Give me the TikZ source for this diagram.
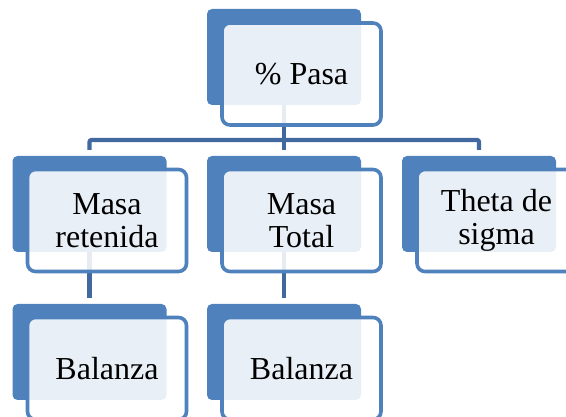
\documentclass[tikz,border=0pt]{standalone}
\usepackage{fontspec}
\setmainfont{Liberation Serif}
\usepackage{tikz}
\usetikzlibrary{positioning}

\definecolor{accentblue}{HTML}{4F81BD}
\definecolor{linkblue}{HTML}{41699F}

\tikzset{
    backbox/.style={rectangle, rounded corners=5pt, fill=accentblue,
        minimum width=154pt, minimum height=96pt, inner sep=0pt},
    frontbox/.style={rectangle, rounded corners=8pt, draw=accentblue,
        line width=3.6pt, fill=white, fill opacity=0.88, text opacity=1,
        minimum width=159pt, minimum height=102pt, inner sep=0pt,
        align=center, font=\fontsize{32}{33}\selectfont},
    conn/.style={draw=linkblue, line width=4.2pt, rounded corners=2pt}
}

\begin{document}
\begin{tikzpicture}[x=1pt,y=-1pt]
    \useasboundingbox (0,0) rectangle (566,417);

    % back panels
    \node[backbox] (pasaB) at (284,57) {};
    \node[backbox] (retB) at (89.5,204) {};
    \node[backbox] (totB) at (284,204) {};
    \node[backbox] (thetaB) at (479,204) {};
    \node[backbox] (balB) at (89.5,352) {};
    \node[backbox] (balTB) at (284,352) {};

    % links
    \draw[conn] (pasaB.south) -- ([yshift=6pt]totB.north);
    \draw[conn] ([yshift=6pt]retB.north) -- (retB.north |- 0,140)
        -- (thetaB.north |- 0,140) -- ([yshift=6pt]thetaB.north);
    \draw[conn] (retB.south) -- ([yshift=6pt]balB.north);
    \draw[conn] (totB.south) -- ([yshift=6pt]balTB.north);

    % front panels
    \node[frontbox] (pasa) at ([shift={(17.5,17)}]pasaB) {\% Pasa};
    \node[frontbox] (ret) at ([shift={(17.5,16.5)}]retB) {Masa\\retenida};
    \node[frontbox] (tot) at ([shift={(17.5,16.5)}]totB) {Masa\\Total};
    \node[frontbox] (theta) at ([shift={(17.5,16.5)}]thetaB) {Theta de\\sigma};
    \node[frontbox] (bal) at ([shift={(17.5,16.5)}]balB) {Balanza};
    \node[frontbox] (balT) at ([shift={(17.5,16.5)}]balTB) {Balanza};
\end{tikzpicture}
\end{document}
